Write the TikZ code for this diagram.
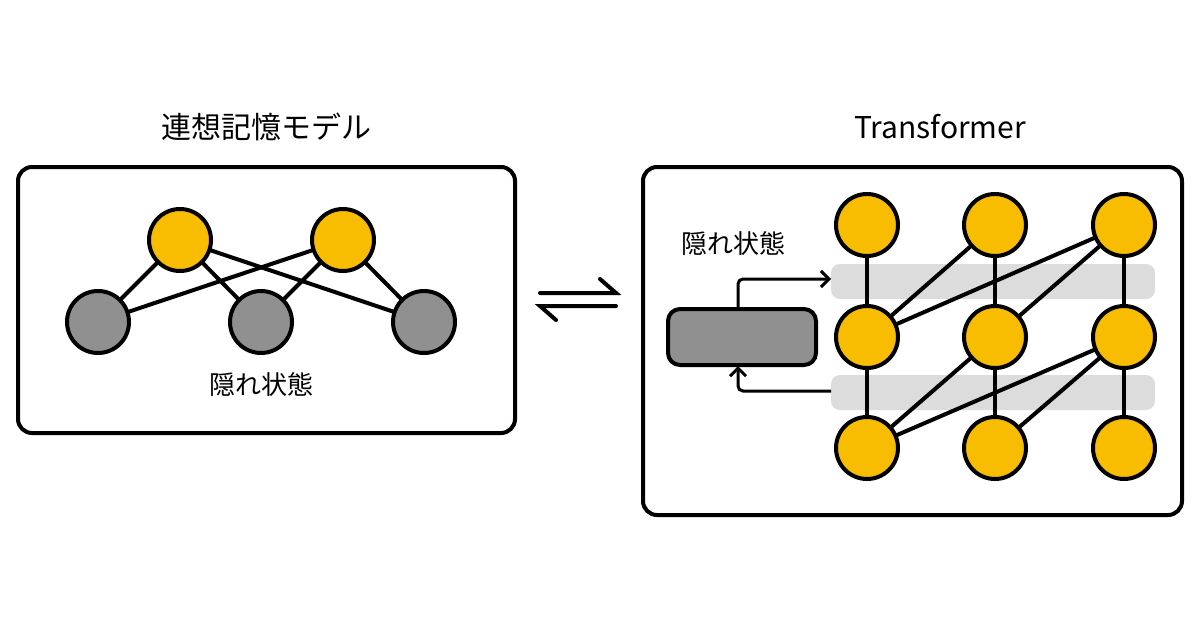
\documentclass[tikz,border=0pt]{standalone}
\usepackage{fontspec}
\setmainfont{Noto Sans CJK JP}
\usetikzlibrary{arrows.meta}
\definecolor{yel}{HTML}{F8BC00}
\definecolor{gr}{HTML}{909090}
\definecolor{band}{HTML}{DCDCDC}
\begin{document}
\begin{tikzpicture}[x=1pt,y=-1pt,
  box/.style={draw,line width=4pt,rounded corners=14pt},
  yn/.style={circle,draw,line width=4pt,fill=yel,minimum size=62pt,inner sep=0},
  gn/.style={circle,draw,line width=4pt,fill=gr,minimum size=62pt,inner sep=0},
  ed/.style={line width=4pt},
  lab/.style={font=\fontsize{26pt}{26pt}\selectfont},
  ttl/.style={font=\fontsize{30pt}{30pt}\selectfont},
  arr/.style={line width=3pt,-{Straight Barb[length=8pt,width=16pt]}}]
\useasboundingbox (0,0) rectangle (1200,630);
% left panel
\draw[box] (18,167) rectangle (515,433);
\node[ttl] (t1) at (266,127) {連想記憶モデル};
\coordinate (y1) at (180,240);
\coordinate (y2) at (343,240);
\coordinate (g1) at (98,322);
\coordinate (g2) at (261,322);
\coordinate (g3) at (424,322);
\foreach \a in {y1,y2} \foreach \b in {g1,g2,g3} \draw[ed] (\a) -- (\b);
\node[yn] (Y1) at (y1) {}; \node[yn] (Y2) at (y2) {};
\node[gn] (G1) at (g1) {}; \node[gn] (G2) at (g2) {}; \node[gn] (G3) at (g3) {};
\node[lab] (l1) at (261,385) {隠れ状態};
% equilibrium arrow
\draw[line width=4pt,line cap=round] (540,293) -- (616,293) -- (600,279);
\draw[line width=4pt,line cap=round] (616,306) -- (540,306) -- (556,320);
% right panel
\draw[box] (643,167) rectangle (1182,515);
\node[ttl] (t2) at (940,127) {Transformer};
\fill[band,rounded corners=9pt] (831,264) rectangle (1155,299);
\fill[band,rounded corners=9pt] (831,375) rectangle (1155,410);
\foreach \c/\x in {1/867,2/995,3/1124} \foreach \r/\y in {1/225,2/337,3/448}
  \coordinate (n\c\r) at (\x,\y);
\foreach \c in {1,2,3} {\draw[ed] (n\c1) -- (n\c2) -- (n\c3);}
\foreach \r/\s in {2/1,3/2} {
  \draw[ed] (n1\r) -- (n2\s); \draw[ed] (n1\r) -- (n3\s); \draw[ed] (n2\r) -- (n3\s);}
\foreach \c in {1,2,3} \foreach \r in {1,2,3} \node[yn] (N\c\r) at (n\c\r) {};
\node[box,fill=gr,minimum width=148pt,minimum height=56pt,rounded corners=12pt] (h) at (742,337) {};
\coordinate (b1) at (831,279);
\coordinate (b2) at (831,391);
\draw[arr,rounded corners=5pt] (738,309) -- (738,279) -- (b1);
\draw[arr,rounded corners=5pt] (b2) -- (738,391) -- (738,366);
\node[lab] (l2) at (733,244) {隠れ状態};
\end{tikzpicture}
\end{document}
